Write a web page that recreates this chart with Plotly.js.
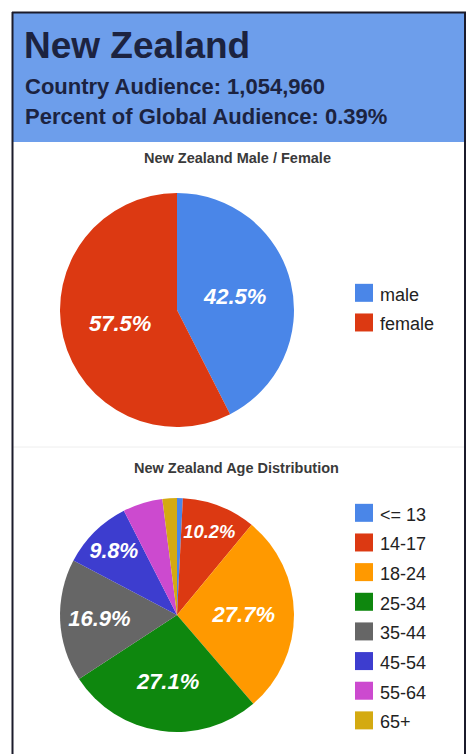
<!DOCTYPE html>
<html>
<head>
<meta charset="utf-8">
<script src="https://cdn.plot.ly/plotly-3.0.1.min.js"></script>
<style>
  html, body { margin: 0; padding: 0; background: #ffffff; }
  #chart { width: 468px; height: 754px; }
</style>
</head>
<body>
<div id="chart"></div>
<script>
// ---- data ----
const countryName = 'New Zealand';
const countryAudience = '1,054,960';
const globalPercent = '0.39%';

const genderLabels = ['male', 'female'];
const genderValues = [42.5, 57.5];
const genderColors = ['#4a86e8', '#dc3912'];

const ageLabels = ['<= 13', '14-17', '18-24', '25-34', '35-44', '45-54', '55-64', '65+'];
const ageValues = [0.8, 10.2, 27.7, 27.1, 16.9, 9.8, 5.5, 2.0];
const ageColors = ['#4a86e8', '#dc3912', '#ff9900', '#0e870e', '#666666', '#3d3dcf', '#cc4acf', '#d4aa11'];
const ageShowLabel = [false, true, true, true, true, true, false, false];

// ---- helpers (page pixels -> paper coords) ----
const W = 468, H = 754;
const px = x => x / W;
const py = y => 1 - y / H;
const FONT = 'Liberation Sans, Arial, sans-serif';
const legendLabel = s => '<span style="font-size:18px">' + s + '</span>';

function pieDomain(cx, cy, r) {
  return { x: [px(cx - r), px(cx + r)], y: [py(cy + r), py(cy - r)] };
}

const pieText = { family: FONT, size: 22, color: '#ffffff', weight: 'bold', style: 'italic' };

const traces = [
  {
    type: 'pie',
    labels: genderLabels.map(legendLabel),
    values: genderValues,
    marker: { colors: genderColors, line: { width: 0 } },
    sort: false,
    direction: 'clockwise',
    rotation: 0,
    textposition: 'inside',
    insidetextorientation: 'horizontal',
    texttemplate: '%{percent:.1%}',
    textfont: pieText,
    hoverinfo: 'none',
    domain: pieDomain(177, 310, 117),
    legend: 'legend'
  },
  {
    type: 'pie',
    labels: ageLabels.map(legendLabel),
    values: ageValues,
    marker: { colors: ageColors, line: { width: 0 } },
    sort: false,
    direction: 'clockwise',
    rotation: 0,
    textposition: 'inside',
    insidetextorientation: 'horizontal',
    texttemplate: ageShowLabel.map(s => s ? '%{percent:.1%}' : ''),
    textfont: pieText,
    hoverinfo: 'none',
    domain: pieDomain(177, 615, 117),
    legend: 'legend2'
  }
];

const frameColor = '#1b1b2b';
const headerText = '#1c2340';

const layout = {
  width: W,
  height: H,
  margin: { l: 0, r: 0, t: 0, b: 0 },
  paper_bgcolor: '#ffffff',
  showlegend: true,
  legend: {
    x: px(340), xanchor: 'left', y: py(308), yanchor: 'middle',
    font: { family: FONT, size: 20.5, color: '#222222' },
    bgcolor: 'rgba(0,0,0,0)', borderwidth: 0, itemclick: false, itemdoubleclick: false
  },
  legend2: {
    x: px(340), xanchor: 'left', y: py(617), yanchor: 'middle',
    font: { family: FONT, size: 20.5, color: '#222222' },
    bgcolor: 'rgba(0,0,0,0)', borderwidth: 0, itemclick: false, itemdoubleclick: false
  },
  shapes: [
    { type: 'rect', xref: 'paper', yref: 'paper', x0: px(12), x1: px(465), y0: py(142), y1: py(12),
      fillcolor: '#6d9eeb', line: { width: 0 }, layer: 'below' },
    { type: 'line', xref: 'paper', yref: 'paper', x0: px(13), x1: px(465), y0: py(447), y1: py(447),
      line: { color: '#eeeeee', width: 1 } },
    { type: 'line', xref: 'paper', yref: 'paper', x0: px(12), x1: px(466), y0: py(12.5), y1: py(12.5),
      line: { color: frameColor, width: 2 } },
    { type: 'line', xref: 'paper', yref: 'paper', x0: px(12.5), x1: px(12.5), y0: py(12), y1: 0,
      line: { color: frameColor, width: 2 } },
    { type: 'line', xref: 'paper', yref: 'paper', x0: px(465), x1: px(465), y0: py(12), y1: 0,
      line: { color: frameColor, width: 2 } }
  ],
  annotations: [
    { text: '<b>' + countryName + '</b>', xref: 'paper', yref: 'paper', x: px(22), y: py(45.5),
      xanchor: 'left', yanchor: 'middle', showarrow: false,
      font: { family: FONT, size: 37, color: headerText } },
    { text: '<b>Country Audience: ' + countryAudience + '</b>', xref: 'paper', yref: 'paper', x: px(23), y: py(86.5),
      xanchor: 'left', yanchor: 'middle', showarrow: false,
      font: { family: FONT, size: 22, color: headerText } },
    { text: '<b>Percent of Global Audience: ' + globalPercent + '</b>', xref: 'paper', yref: 'paper', x: px(23), y: py(117),
      xanchor: 'left', yanchor: 'middle', showarrow: false,
      font: { family: FONT, size: 22, color: headerText } },
    { text: '<b>' + countryName + ' Male / Female</b>', xref: 'paper', yref: 'paper', x: px(237), y: py(158),
      xanchor: 'center', yanchor: 'middle', showarrow: false,
      font: { family: FONT, size: 14.5, color: '#3a3a3a' } },
    { text: '<b>' + countryName + ' Age Distribution</b>', xref: 'paper', yref: 'paper', x: px(236), y: py(468),
      xanchor: 'center', yanchor: 'middle', showarrow: false,
      font: { family: FONT, size: 14.5, color: '#3a3a3a' } }
  ]
};

Plotly.newPlot('chart', traces, layout, { displayModeBar: false, staticPlot: true }).then(gd => {
  // enlarge legend swatches to match the reference's bigger squares
  gd.querySelectorAll('path.legendpie').forEach(p => {
    p.setAttribute('d', 'M9,9H-9V-9H9Z');
    p.setAttribute('transform', 'translate(24,0)');
  });
});
</script>
</body>
</html>
